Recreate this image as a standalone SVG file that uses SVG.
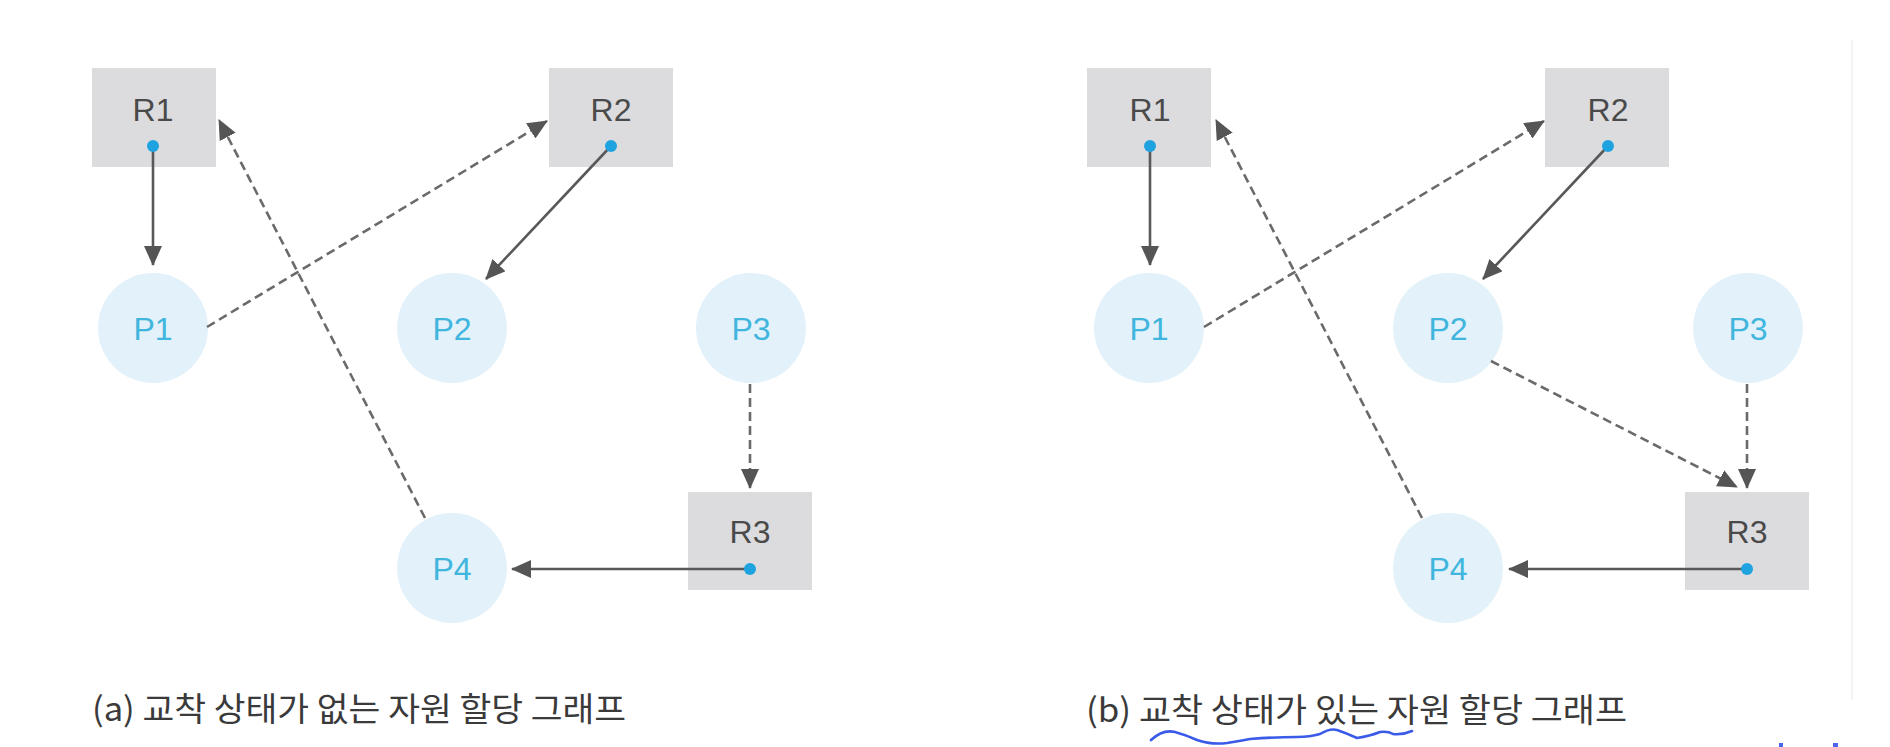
<svg xmlns="http://www.w3.org/2000/svg" width="1890" height="747" viewBox="0 0 1890 747">
<style>
.res{fill:#dcdcde}
.proc{fill:#e2f1fa}
.rlab{font-family:"Liberation Sans","Noto Sans CJK KR",sans-serif;font-size:32px;fill:#4a4a4a;text-anchor:middle}
.plab{font-family:"Liberation Sans","Noto Sans CJK KR",sans-serif;font-size:32px;fill:#40b5dd;text-anchor:middle}
.dot{fill:#1fa3e0}
.solid{stroke:#585858;stroke-width:2.6;fill:none;marker-end:url(#ah)}
.dash{stroke:#6a6a6a;stroke-width:2.6;fill:none;stroke-dasharray:9 5;marker-end:url(#ah)}
.cap{font-family:"Noto Sans CJK KR","Liberation Sans",sans-serif;font-size:33px;fill:#3a3a3a}
</style>
<defs>
<marker id="ah" markerUnits="userSpaceOnUse" markerWidth="20" markerHeight="18" refX="19" refY="9" orient="auto">
<path d="M0,0 L20,9 L0,18 z" fill="#555555"/>
</marker>
</defs>
<rect width="1890" height="747" fill="#ffffff"/>
<line x1="1852" y1="40" x2="1852" y2="700" stroke="#f4f4f4" stroke-width="2"/>

<!-- Panel (a) -->
<g id="panel-a">
<g id="a-R1"><rect class="res" x="92" y="68" width="124" height="99"/><text class="rlab" x="153" y="121">R1</text></g>
<g id="a-R2"><rect class="res" x="549" y="68" width="124" height="99"/><text class="rlab" x="611" y="121">R2</text></g>
<g id="a-R3"><rect class="res" x="688" y="492" width="124" height="98"/><text class="rlab" x="750" y="543">R3</text></g>
<g id="a-P1"><circle class="proc" cx="153" cy="328" r="55"/><text class="plab" x="153" y="340">P1</text></g>
<g id="a-P2"><circle class="proc" cx="452" cy="328" r="55"/><text class="plab" x="452" y="340">P2</text></g>
<g id="a-P3"><circle class="proc" cx="751" cy="328" r="55"/><text class="plab" x="751" y="340">P3</text></g>
<g id="a-P4"><circle class="proc" cx="452" cy="568" r="55"/><text class="plab" x="452" y="580">P4</text></g>
<g id="a-connectors">
<line class="solid" x1="153" y1="146" x2="153" y2="265"/>
<line class="dash" x1="207" y1="327" x2="547" y2="121"/>
<line class="solid" x1="611" y1="146" x2="486" y2="279"/>
<line class="dash" x1="750" y1="384" x2="750" y2="488"/>
<line class="solid" x1="750" y1="569" x2="512" y2="569"/>
<line class="dash" x1="425" y1="518" x2="219" y2="120"/>
<circle class="dot" cx="153" cy="146" r="6"/>
<circle class="dot" cx="611" cy="146" r="6"/>
<circle class="dot" cx="750" cy="569" r="6"/>
</g>
<text class="cap" x="92" y="721" textLength="534" lengthAdjust="spacingAndGlyphs">(a) 교착 상태가 없는 자원 할당 그래프</text>
</g>

<!-- Panel (b) -->
<g id="panel-b" transform="translate(997,0)">
<g id="b-R1"><rect class="res" x="90" y="68" width="124" height="99"/><text class="rlab" x="153" y="121">R1</text></g>
<g id="b-R2"><rect class="res" x="548" y="68" width="124" height="99"/><text class="rlab" x="611" y="121">R2</text></g>
<g id="b-R3"><rect class="res" x="688" y="492" width="124" height="98"/><text class="rlab" x="750" y="543">R3</text></g>
<g id="b-P1"><circle class="proc" cx="152" cy="328" r="55"/><text class="plab" x="152" y="340">P1</text></g>
<g id="b-P2"><circle class="proc" cx="451" cy="328" r="55"/><text class="plab" x="451" y="340">P2</text></g>
<g id="b-P3"><circle class="proc" cx="751" cy="328" r="55"/><text class="plab" x="751" y="340">P3</text></g>
<g id="b-P4"><circle class="proc" cx="451" cy="568" r="55"/><text class="plab" x="451" y="580">P4</text></g>
<g id="b-connectors">
<line class="solid" x1="153" y1="146" x2="153" y2="265"/>
<line class="dash" x1="207" y1="327" x2="547" y2="121"/>
<line class="solid" x1="611" y1="146" x2="486" y2="279"/>
<line class="dash" x1="494" y1="361" x2="740" y2="487"/>
<line class="dash" x1="750" y1="384" x2="750" y2="488"/>
<line class="solid" x1="750" y1="569" x2="512" y2="569"/>
<line class="dash" x1="425" y1="518" x2="219" y2="120"/>
<circle class="dot" cx="153" cy="146" r="6"/>
<circle class="dot" cx="611" cy="146" r="6"/>
<circle class="dot" cx="750" cy="569" r="6"/>
</g>
<text class="cap" x="89" y="722" textLength="541" lengthAdjust="spacingAndGlyphs">(b) 교착 상태가 있는 자원 할당 그래프</text>
</g>

<!-- annotation marks -->
<path d="M1151,740 Q1163,729 1175,732 Q1186,735 1197,740 Q1211,745 1227,743 Q1240,741 1250,739 Q1275,737 1297,737 Q1310,737 1320,734 Q1330,728 1337,730 Q1346,733 1357,738 Q1370,736 1380,732 Q1388,731 1393,734 Q1403,735 1412,731" fill="none" stroke="#3a5ae8" stroke-width="2.6" stroke-linecap="round"/>
<rect x="1779" y="743" width="4" height="4" fill="#4a66ee"/>
<rect x="1833" y="743" width="5" height="4" fill="#4a66ee"/>
</svg>
